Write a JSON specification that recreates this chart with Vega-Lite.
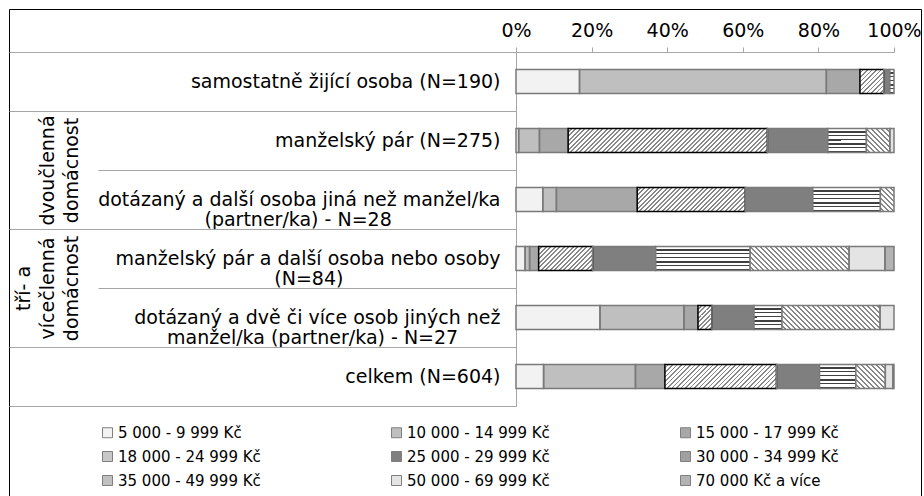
{
  "$schema": "https://vega.github.io/schema/vega-lite/v6.json",
  "width": 912,
  "height": 487,
  "autosize": {"type": "none"},
  "padding": {"left": 9, "top": 9, "right": 3, "bottom": 0},
  "background": "#ffffff",
  "config": {
    "font": "DejaVu Sans",
    "view": {"stroke": "#000000", "strokeWidth": 1},
    "axis": {"labelColor": "#000000", "labelFont": "DejaVu Sans"},
    "legend": {"labelFont": "DejaVu Sans", "labelColor": "#000000"}
  },
  "params": [
    {"name": "gradH", "value": {"gradient": "linear", "x1": 0, "y1": 0, "x2": 0.000001, "y2": 1, "stops": [
      {"offset":0,"color":"#fff"},{"offset":0.1083,"color":"#fff"},{"offset":0.1083,"color":"#404040"},{"offset":0.1667,"color":"#404040"},
      {"offset":0.1667,"color":"#fff"},{"offset":0.275,"color":"#fff"},{"offset":0.275,"color":"#404040"},{"offset":0.3333,"color":"#404040"},
      {"offset":0.3333,"color":"#fff"},{"offset":0.4417,"color":"#fff"},{"offset":0.4417,"color":"#404040"},{"offset":0.5,"color":"#404040"},
      {"offset":0.5,"color":"#fff"},{"offset":0.6083,"color":"#fff"},{"offset":0.6083,"color":"#404040"},{"offset":0.6667,"color":"#404040"},
      {"offset":0.6667,"color":"#fff"},{"offset":0.775,"color":"#fff"},{"offset":0.775,"color":"#404040"},{"offset":0.8333,"color":"#404040"},
      {"offset":0.8333,"color":"#fff"},{"offset":0.9417,"color":"#fff"},{"offset":0.9417,"color":"#404040"},{"offset":1,"color":"#404040"}]}},
    {"name": "stopsA", "value": [
      {"offset":0,"color":"#fff"},{"offset":0.012,"color":"#fff"},{"offset":0.012,"color":"#888"},{"offset":0.02,"color":"#888"},
      {"offset":0.02,"color":"#fff"},{"offset":0.032,"color":"#fff"},{"offset":0.032,"color":"#888"},{"offset":0.04,"color":"#888"},
      {"offset":0.04,"color":"#fff"},{"offset":0.052,"color":"#fff"},{"offset":0.052,"color":"#888"},{"offset":0.06,"color":"#888"},
      {"offset":0.06,"color":"#fff"},{"offset":0.072,"color":"#fff"},{"offset":0.072,"color":"#888"},{"offset":0.08,"color":"#888"},
      {"offset":0.08,"color":"#fff"},{"offset":0.092,"color":"#fff"},{"offset":0.092,"color":"#888"},{"offset":0.1,"color":"#888"},
      {"offset":0.1,"color":"#fff"},{"offset":0.112,"color":"#fff"},{"offset":0.112,"color":"#888"},{"offset":0.12,"color":"#888"},
      {"offset":0.12,"color":"#fff"},{"offset":0.132,"color":"#fff"},{"offset":0.132,"color":"#888"},{"offset":0.14,"color":"#888"},
      {"offset":0.14,"color":"#fff"},{"offset":0.152,"color":"#fff"},{"offset":0.152,"color":"#888"},{"offset":0.16,"color":"#888"},
      {"offset":0.16,"color":"#fff"},{"offset":0.172,"color":"#fff"},{"offset":0.172,"color":"#888"},{"offset":0.18,"color":"#888"},
      {"offset":0.18,"color":"#fff"},{"offset":0.192,"color":"#fff"},{"offset":0.192,"color":"#888"},{"offset":0.2,"color":"#888"},
      {"offset":0.2,"color":"#fff"},{"offset":0.212,"color":"#fff"},{"offset":0.212,"color":"#888"},{"offset":0.22,"color":"#888"},
      {"offset":0.22,"color":"#fff"},{"offset":0.232,"color":"#fff"},{"offset":0.232,"color":"#888"},{"offset":0.24,"color":"#888"},
      {"offset":0.24,"color":"#fff"},{"offset":0.252,"color":"#fff"},{"offset":0.252,"color":"#888"},{"offset":0.26,"color":"#888"},
      {"offset":0.26,"color":"#fff"},{"offset":0.272,"color":"#fff"},{"offset":0.272,"color":"#888"},{"offset":0.28,"color":"#888"},
      {"offset":0.28,"color":"#fff"},{"offset":0.292,"color":"#fff"},{"offset":0.292,"color":"#888"},{"offset":0.3,"color":"#888"},
      {"offset":0.3,"color":"#fff"},{"offset":0.312,"color":"#fff"},{"offset":0.312,"color":"#888"},{"offset":0.32,"color":"#888"},
      {"offset":0.32,"color":"#fff"},{"offset":0.332,"color":"#fff"},{"offset":0.332,"color":"#888"},{"offset":0.34,"color":"#888"},
      {"offset":0.34,"color":"#fff"},{"offset":0.352,"color":"#fff"},{"offset":0.352,"color":"#888"},{"offset":0.36,"color":"#888"},
      {"offset":0.36,"color":"#fff"},{"offset":0.372,"color":"#fff"},{"offset":0.372,"color":"#888"},{"offset":0.38,"color":"#888"},
      {"offset":0.38,"color":"#fff"},{"offset":0.392,"color":"#fff"},{"offset":0.392,"color":"#888"},{"offset":0.4,"color":"#888"},
      {"offset":0.4,"color":"#fff"},{"offset":0.412,"color":"#fff"},{"offset":0.412,"color":"#888"},{"offset":0.42,"color":"#888"},
      {"offset":0.42,"color":"#fff"},{"offset":0.432,"color":"#fff"},{"offset":0.432,"color":"#888"},{"offset":0.44,"color":"#888"},
      {"offset":0.44,"color":"#fff"},{"offset":0.452,"color":"#fff"},{"offset":0.452,"color":"#888"},{"offset":0.46,"color":"#888"},
      {"offset":0.46,"color":"#fff"},{"offset":0.472,"color":"#fff"},{"offset":0.472,"color":"#888"},{"offset":0.48,"color":"#888"},
      {"offset":0.48,"color":"#fff"},{"offset":0.492,"color":"#fff"},{"offset":0.492,"color":"#888"},{"offset":0.5,"color":"#888"},
      {"offset":0.5,"color":"#fff"},{"offset":0.512,"color":"#fff"},{"offset":0.512,"color":"#888"},{"offset":0.52,"color":"#888"},
      {"offset":0.52,"color":"#fff"},{"offset":0.532,"color":"#fff"},{"offset":0.532,"color":"#888"},{"offset":0.54,"color":"#888"},
      {"offset":0.54,"color":"#fff"},{"offset":0.552,"color":"#fff"},{"offset":0.552,"color":"#888"},{"offset":0.56,"color":"#888"},
      {"offset":0.56,"color":"#fff"},{"offset":0.572,"color":"#fff"},{"offset":0.572,"color":"#888"},{"offset":0.58,"color":"#888"},
      {"offset":0.58,"color":"#fff"},{"offset":0.592,"color":"#fff"},{"offset":0.592,"color":"#888"},{"offset":0.6,"color":"#888"},
      {"offset":0.6,"color":"#fff"},{"offset":0.612,"color":"#fff"},{"offset":0.612,"color":"#888"},{"offset":0.62,"color":"#888"},
      {"offset":0.62,"color":"#fff"},{"offset":0.632,"color":"#fff"},{"offset":0.632,"color":"#888"},{"offset":0.64,"color":"#888"},
      {"offset":0.64,"color":"#fff"},{"offset":0.652,"color":"#fff"},{"offset":0.652,"color":"#888"},{"offset":0.66,"color":"#888"},
      {"offset":0.66,"color":"#fff"},{"offset":0.672,"color":"#fff"},{"offset":0.672,"color":"#888"},{"offset":0.68,"color":"#888"},
      {"offset":0.68,"color":"#fff"},{"offset":0.692,"color":"#fff"},{"offset":0.692,"color":"#888"},{"offset":0.7,"color":"#888"},
      {"offset":0.7,"color":"#fff"},{"offset":0.712,"color":"#fff"},{"offset":0.712,"color":"#888"},{"offset":0.72,"color":"#888"},
      {"offset":0.72,"color":"#fff"},{"offset":0.732,"color":"#fff"},{"offset":0.732,"color":"#888"},{"offset":0.74,"color":"#888"},
      {"offset":0.74,"color":"#fff"},{"offset":0.752,"color":"#fff"},{"offset":0.752,"color":"#888"},{"offset":0.76,"color":"#888"},
      {"offset":0.76,"color":"#fff"},{"offset":0.772,"color":"#fff"},{"offset":0.772,"color":"#888"},{"offset":0.78,"color":"#888"},
      {"offset":0.78,"color":"#fff"},{"offset":0.792,"color":"#fff"},{"offset":0.792,"color":"#888"},{"offset":0.8,"color":"#888"},
      {"offset":0.8,"color":"#fff"},{"offset":0.812,"color":"#fff"},{"offset":0.812,"color":"#888"},{"offset":0.82,"color":"#888"},
      {"offset":0.82,"color":"#fff"},{"offset":0.832,"color":"#fff"},{"offset":0.832,"color":"#888"},{"offset":0.84,"color":"#888"},
      {"offset":0.84,"color":"#fff"},{"offset":0.852,"color":"#fff"},{"offset":0.852,"color":"#888"},{"offset":0.86,"color":"#888"},
      {"offset":0.86,"color":"#fff"},{"offset":0.872,"color":"#fff"},{"offset":0.872,"color":"#888"},{"offset":0.88,"color":"#888"},
      {"offset":0.88,"color":"#fff"},{"offset":0.892,"color":"#fff"},{"offset":0.892,"color":"#888"},{"offset":0.9,"color":"#888"},
      {"offset":0.9,"color":"#fff"},{"offset":0.912,"color":"#fff"},{"offset":0.912,"color":"#888"},{"offset":0.92,"color":"#888"},
      {"offset":0.92,"color":"#fff"},{"offset":0.932,"color":"#fff"},{"offset":0.932,"color":"#888"},{"offset":0.94,"color":"#888"},
      {"offset":0.94,"color":"#fff"},{"offset":0.952,"color":"#fff"},{"offset":0.952,"color":"#888"},{"offset":0.96,"color":"#888"},
      {"offset":0.96,"color":"#fff"},{"offset":0.972,"color":"#fff"},{"offset":0.972,"color":"#888"},{"offset":0.98,"color":"#888"},
      {"offset":0.98,"color":"#fff"},{"offset":0.992,"color":"#fff"},{"offset":0.992,"color":"#888"},{"offset":1,"color":"#888"}
    ]},
    {"name": "stopsB", "value": [
      {"offset":0,"color":"#fff"},{"offset":0.022,"color":"#fff"},{"offset":0.022,"color":"#888"},{"offset":0.04,"color":"#888"},
      {"offset":0.04,"color":"#fff"},{"offset":0.062,"color":"#fff"},{"offset":0.062,"color":"#888"},{"offset":0.08,"color":"#888"},
      {"offset":0.08,"color":"#fff"},{"offset":0.102,"color":"#fff"},{"offset":0.102,"color":"#888"},{"offset":0.12,"color":"#888"},
      {"offset":0.12,"color":"#fff"},{"offset":0.142,"color":"#fff"},{"offset":0.142,"color":"#888"},{"offset":0.16,"color":"#888"},
      {"offset":0.16,"color":"#fff"},{"offset":0.182,"color":"#fff"},{"offset":0.182,"color":"#888"},{"offset":0.2,"color":"#888"},
      {"offset":0.2,"color":"#fff"},{"offset":0.222,"color":"#fff"},{"offset":0.222,"color":"#888"},{"offset":0.24,"color":"#888"},
      {"offset":0.24,"color":"#fff"},{"offset":0.262,"color":"#fff"},{"offset":0.262,"color":"#888"},{"offset":0.28,"color":"#888"},
      {"offset":0.28,"color":"#fff"},{"offset":0.302,"color":"#fff"},{"offset":0.302,"color":"#888"},{"offset":0.32,"color":"#888"},
      {"offset":0.32,"color":"#fff"},{"offset":0.342,"color":"#fff"},{"offset":0.342,"color":"#888"},{"offset":0.36,"color":"#888"},
      {"offset":0.36,"color":"#fff"},{"offset":0.382,"color":"#fff"},{"offset":0.382,"color":"#888"},{"offset":0.4,"color":"#888"},
      {"offset":0.4,"color":"#fff"},{"offset":0.422,"color":"#fff"},{"offset":0.422,"color":"#888"},{"offset":0.44,"color":"#888"},
      {"offset":0.44,"color":"#fff"},{"offset":0.462,"color":"#fff"},{"offset":0.462,"color":"#888"},{"offset":0.48,"color":"#888"},
      {"offset":0.48,"color":"#fff"},{"offset":0.502,"color":"#fff"},{"offset":0.502,"color":"#888"},{"offset":0.52,"color":"#888"},
      {"offset":0.52,"color":"#fff"},{"offset":0.542,"color":"#fff"},{"offset":0.542,"color":"#888"},{"offset":0.56,"color":"#888"},
      {"offset":0.56,"color":"#fff"},{"offset":0.582,"color":"#fff"},{"offset":0.582,"color":"#888"},{"offset":0.6,"color":"#888"},
      {"offset":0.6,"color":"#fff"},{"offset":0.622,"color":"#fff"},{"offset":0.622,"color":"#888"},{"offset":0.64,"color":"#888"},
      {"offset":0.64,"color":"#fff"},{"offset":0.662,"color":"#fff"},{"offset":0.662,"color":"#888"},{"offset":0.68,"color":"#888"},
      {"offset":0.68,"color":"#fff"},{"offset":0.702,"color":"#fff"},{"offset":0.702,"color":"#888"},{"offset":0.72,"color":"#888"},
      {"offset":0.72,"color":"#fff"},{"offset":0.742,"color":"#fff"},{"offset":0.742,"color":"#888"},{"offset":0.76,"color":"#888"},
      {"offset":0.76,"color":"#fff"},{"offset":0.782,"color":"#fff"},{"offset":0.782,"color":"#888"},{"offset":0.8,"color":"#888"},
      {"offset":0.8,"color":"#fff"},{"offset":0.822,"color":"#fff"},{"offset":0.822,"color":"#888"},{"offset":0.84,"color":"#888"},
      {"offset":0.84,"color":"#fff"},{"offset":0.862,"color":"#fff"},{"offset":0.862,"color":"#888"},{"offset":0.88,"color":"#888"},
      {"offset":0.88,"color":"#fff"},{"offset":0.902,"color":"#fff"},{"offset":0.902,"color":"#888"},{"offset":0.92,"color":"#888"},
      {"offset":0.92,"color":"#fff"},{"offset":0.942,"color":"#fff"},{"offset":0.942,"color":"#888"},{"offset":0.96,"color":"#888"},
      {"offset":0.96,"color":"#fff"},{"offset":0.982,"color":"#fff"},{"offset":0.982,"color":"#888"},{"offset":1,"color":"#888"}
    ]}
  ],
  "data": {"values": [
    {"row": "samostatně žijící osoba (N=190)", "cat": "5 000 - 9 999 Kč", "ord": 1, "pct": 16.8},
    {"row": "samostatně žijící osoba (N=190)", "cat": "10 000 - 14 999 Kč", "ord": 2, "pct": 65.3},
    {"row": "samostatně žijící osoba (N=190)", "cat": "15 000 - 17 999 Kč", "ord": 3, "pct": 8.9},
    {"row": "samostatně žijící osoba (N=190)", "cat": "18 000 - 24 999 Kč", "ord": 4, "pct": 6.3},
    {"row": "samostatně žijící osoba (N=190)", "cat": "25 000 - 29 999 Kč", "ord": 5, "pct": 1.6},
    {"row": "samostatně žijící osoba (N=190)", "cat": "30 000 - 34 999 Kč", "ord": 6, "pct": 1.1},

    {"row": "manželský pár (N=275)", "cat": "5 000 - 9 999 Kč", "ord": 1, "pct": 0.7},
    {"row": "manželský pár (N=275)", "cat": "10 000 - 14 999 Kč", "ord": 2, "pct": 5.5},
    {"row": "manželský pár (N=275)", "cat": "15 000 - 17 999 Kč", "ord": 3, "pct": 7.6},
    {"row": "manželský pár (N=275)", "cat": "18 000 - 24 999 Kč", "ord": 4, "pct": 52.7},
    {"row": "manželský pár (N=275)", "cat": "25 000 - 29 999 Kč", "ord": 5, "pct": 16.0},
    {"row": "manželský pár (N=275)", "cat": "30 000 - 34 999 Kč", "ord": 6, "pct": 10.2},
    {"row": "manželský pár (N=275)", "cat": "35 000 - 49 999 Kč", "ord": 7, "pct": 6.2},
    {"row": "manželský pár (N=275)", "cat": "50 000 - 69 999 Kč", "ord": 8, "pct": 1.1},

    {"row": "dotázaný a další osoba jiná než manžel/ka\n(partner/ka) - N=28", "cat": "5 000 - 9 999 Kč", "ord": 1, "pct": 7.1},
    {"row": "dotázaný a další osoba jiná než manžel/ka\n(partner/ka) - N=28", "cat": "10 000 - 14 999 Kč", "ord": 2, "pct": 3.6},
    {"row": "dotázaný a další osoba jiná než manžel/ka\n(partner/ka) - N=28", "cat": "15 000 - 17 999 Kč", "ord": 3, "pct": 21.4},
    {"row": "dotázaný a další osoba jiná než manžel/ka\n(partner/ka) - N=28", "cat": "18 000 - 24 999 Kč", "ord": 4, "pct": 28.6},
    {"row": "dotázaný a další osoba jiná než manžel/ka\n(partner/ka) - N=28", "cat": "25 000 - 29 999 Kč", "ord": 5, "pct": 17.9},
    {"row": "dotázaný a další osoba jiná než manžel/ka\n(partner/ka) - N=28", "cat": "30 000 - 34 999 Kč", "ord": 6, "pct": 17.9},
    {"row": "dotázaný a další osoba jiná než manžel/ka\n(partner/ka) - N=28", "cat": "35 000 - 49 999 Kč", "ord": 7, "pct": 3.6},

    {"row": "manželský pár a další osoba nebo osoby\n(N=84)", "cat": "5 000 - 9 999 Kč", "ord": 1, "pct": 2.4},
    {"row": "manželský pár a další osoba nebo osoby\n(N=84)", "cat": "10 000 - 14 999 Kč", "ord": 2, "pct": 1.2},
    {"row": "manželský pár a další osoba nebo osoby\n(N=84)", "cat": "15 000 - 17 999 Kč", "ord": 3, "pct": 2.4},
    {"row": "manželský pár a další osoba nebo osoby\n(N=84)", "cat": "18 000 - 24 999 Kč", "ord": 4, "pct": 14.3},
    {"row": "manželský pár a další osoba nebo osoby\n(N=84)", "cat": "25 000 - 29 999 Kč", "ord": 5, "pct": 16.7},
    {"row": "manželský pár a další osoba nebo osoby\n(N=84)", "cat": "30 000 - 34 999 Kč", "ord": 6, "pct": 25.0},
    {"row": "manželský pár a další osoba nebo osoby\n(N=84)", "cat": "35 000 - 49 999 Kč", "ord": 7, "pct": 26.2},
    {"row": "manželský pár a další osoba nebo osoby\n(N=84)", "cat": "50 000 - 69 999 Kč", "ord": 8, "pct": 9.5},
    {"row": "manželský pár a další osoba nebo osoby\n(N=84)", "cat": "70 000 Kč a více", "ord": 9, "pct": 2.4},

    {"row": "dotázaný a dvě či více osob jiných než\nmanžel/ka (partner/ka) - N=27", "cat": "5 000 - 9 999 Kč", "ord": 1, "pct": 22.2},
    {"row": "dotázaný a dvě či více osob jiných než\nmanžel/ka (partner/ka) - N=27", "cat": "10 000 - 14 999 Kč", "ord": 2, "pct": 22.2},
    {"row": "dotázaný a dvě či více osob jiných než\nmanžel/ka (partner/ka) - N=27", "cat": "15 000 - 17 999 Kč", "ord": 3, "pct": 3.7},
    {"row": "dotázaný a dvě či více osob jiných než\nmanžel/ka (partner/ka) - N=27", "cat": "18 000 - 24 999 Kč", "ord": 4, "pct": 3.7},
    {"row": "dotázaný a dvě či více osob jiných než\nmanžel/ka (partner/ka) - N=27", "cat": "25 000 - 29 999 Kč", "ord": 5, "pct": 11.1},
    {"row": "dotázaný a dvě či více osob jiných než\nmanžel/ka (partner/ka) - N=27", "cat": "30 000 - 34 999 Kč", "ord": 6, "pct": 7.4},
    {"row": "dotázaný a dvě či více osob jiných než\nmanžel/ka (partner/ka) - N=27", "cat": "35 000 - 49 999 Kč", "ord": 7, "pct": 25.9},
    {"row": "dotázaný a dvě či více osob jiných než\nmanžel/ka (partner/ka) - N=27", "cat": "50 000 - 69 999 Kč", "ord": 8, "pct": 3.7},

    {"row": "celkem (N=604)", "cat": "5 000 - 9 999 Kč", "ord": 1, "pct": 7.3},
    {"row": "celkem (N=604)", "cat": "10 000 - 14 999 Kč", "ord": 2, "pct": 24.3},
    {"row": "celkem (N=604)", "cat": "15 000 - 17 999 Kč", "ord": 3, "pct": 7.8},
    {"row": "celkem (N=604)", "cat": "18 000 - 24 999 Kč", "ord": 4, "pct": 29.5},
    {"row": "celkem (N=604)", "cat": "25 000 - 29 999 Kč", "ord": 5, "pct": 11.4},
    {"row": "celkem (N=604)", "cat": "30 000 - 34 999 Kč", "ord": 6, "pct": 9.6},
    {"row": "celkem (N=604)", "cat": "35 000 - 49 999 Kč", "ord": 7, "pct": 7.8},
    {"row": "celkem (N=604)", "cat": "50 000 - 69 999 Kč", "ord": 8, "pct": 2.0},
    {"row": "celkem (N=604)", "cat": "70 000 Kč a více", "ord": 9, "pct": 0.3}
  ]},
  "resolve": {"scale": {"y": "independent"}, "axis": {"y": "independent"}},
  "layer": [
    {
      "mark": {"type": "bar", "size": 24, "strokeWidth": 0},
      "encoding": {
        "y": {
          "field": "row", "type": "nominal",
          "scale": {"domain": ["samostatně žijící osoba (N=190)", "manželský pár (N=275)", "dotázaný a další osoba jiná než manžel/ka\n(partner/ka) - N=28", "manželský pár a další osoba nebo osoby\n(N=84)", "dotázaný a dvě či více osob jiných než\nmanžel/ka (partner/ka) - N=27", "celkem (N=604)"], "range": [43, 397], "paddingInner": 0, "paddingOuter": 0},
          "axis": {
            "orient": "left", "offset": -507, "title": null, "grid": false,
            "domain": true, "domainColor": "#a6a6a6", "domainWidth": 1,
            "ticks": true, "tickBand": "extent", "tickSize": 418, "tickColor": "#a6a6a6", "tickWidth": 1,
            "labelPadding": -402, "labelAlign": "right", "labelBaseline": "middle",
            "labelFontSize": 19, "labelLineHeight": 20, "labelLimit": 0, "labelColor": "#000000",
            "labelExpr": "length(split(datum.label, '\\n')) > 1 ? [split(datum.label, '\\n')[0], pad(split(datum.label, '\\n')[1], length(split(datum.label, '\\n')[1]) + round((length(split(datum.label, '\\n')[0]) - length(split(datum.label, '\\n')[1])) * 0.82), '\u00a0') + '\u2060'] : datum.label"
          }
        },
        "x": {
          "field": "pct", "type": "quantitative", "stack": "normalize",
          "scale": {"domain": [0, 1], "range": [507, 885], "nice": false, "zero": false},
          "axis": {
            "orient": "top", "offset": -43, "title": null, "values": [0, 0.2, 0.4, 0.6, 0.8, 1], "format": ".0%",
            "grid": false, "domain": true, "domainColor": "#a6a6a6", "ticks": true, "tickSize": 5, "tickColor": "#a6a6a6",
            "labelFontSize": 19, "labelPadding": 7, "labelFlush": false, "labelOverlap": false, "labelColor": "#000000"
          }
        },
        "fill": {
          "field": "cat", "type": "nominal",
          "scale": {
            "domain": ["5 000 - 9 999 Kč", "10 000 - 14 999 Kč", "15 000 - 17 999 Kč", "18 000 - 24 999 Kč", "25 000 - 29 999 Kč", "30 000 - 34 999 Kč", "35 000 - 49 999 Kč", "50 000 - 69 999 Kč", "70 000 Kč a více"],
            "range": ["#f2f2f2", "#bfbfbf", "#a8a8a8", "#c8c8c8", "#7f7f7f", "#a0a0a0", "#c0c0c0", "#e4e4e4", "#b3b3b3"]
          },
          "legend": {
            "title": null, "orient": "none", "legendX": 91, "legendY": 416,
            "direction": "horizontal", "columns": 3, "columnPadding": 128, "rowPadding": 8, "gridAlign": "all",
            "symbolType": "square", "symbolSize": 100, "symbolStrokeColor": "#7f7f7f", "symbolStrokeWidth": 1,
            "labelFontSize": 15, "labelOffset": 3, "labelLimit": 0, "padding": 0, "labelColor": "#000000"
          }
        },
        "order": {"field": "ord", "type": "quantitative"}
      }
    },
    {
      "mark": {
        "type": "bar", "size": 24, "strokeWidth": 1.5,
        "fill": {"expr": "datum.cat === '18 000 - 24 999 Kč' ? {gradient: 'linear', x1: 0, y1: 0, x2: 225 * ((datum.pct_end - datum.pct_start) * 378) / (((datum.pct_end - datum.pct_start) * 378) * ((datum.pct_end - datum.pct_start) * 378) + 576), y2: 5400 / (((datum.pct_end - datum.pct_start) * 378) * ((datum.pct_end - datum.pct_start) * 378) + 576), stops: stopsA} : datum.cat === '35 000 - 49 999 Kč' ? {gradient: 'linear', x1: 0, y1: 1, x2: 125 * ((datum.pct_end - datum.pct_start) * 378) / (((datum.pct_end - datum.pct_start) * 378) * ((datum.pct_end - datum.pct_start) * 378) + 576), y2: 1 - 3000 / (((datum.pct_end - datum.pct_start) * 378) * ((datum.pct_end - datum.pct_start) * 378) + 576), stops: stopsB} : datum.cat === '30 000 - 34 999 Kč' ? gradH : 'transparent'"}
      },
      "encoding": {
        "y": {
          "field": "row", "type": "nominal",
          "scale": {"domain": ["samostatně žijící osoba (N=190)", "manželský pár (N=275)", "dotázaný a další osoba jiná než manžel/ka\n(partner/ka) - N=28", "manželský pár a další osoba nebo osoby\n(N=84)", "dotázaný a dvě či více osob jiných než\nmanžel/ka (partner/ka) - N=27", "celkem (N=604)"], "range": [43, 397], "paddingInner": 0, "paddingOuter": 0},
          "axis": null
        },
        "x": {
          "field": "pct", "type": "quantitative", "stack": "normalize",
          "scale": {"domain": [0, 1], "range": [507, 885], "nice": false, "zero": false}
        },
        "detail": {"field": "cat"},
        "order": {"field": "ord", "type": "quantitative"},
        "stroke": {"condition": {"test": "datum.cat === '18 000 - 24 999 Kč'", "value": "#000000"}, "value": "#7a7a7a"}
      }
    },
    {
      "data": {"values": [
        {"grp": "dvoučlenná domácnost", "gpos": 1},
        {"grp": "tří- a vícečlenná domácnost", "gpos": 3}
      ]},
      "mark": {"type": "point", "opacity": 0},
      "encoding": {
        "y": {
          "field": "gpos", "type": "quantitative",
          "scale": {"domain": [0, 6], "range": [43, 397], "nice": false, "zero": false},
          "axis": {
            "orient": "left", "offset": -507, "title": null, "grid": false, "domain": false,
            "values": [0, 1, 3, 5, 6],
            "ticks": true, "tickSize": 507, "tickColor": "#a6a6a6", "tickWidth": 1,
            "labelPadding": -14, "labelOffset": 59, "labelAngle": -90, "labelAlign": "center", "labelBaseline": "middle",
            "labelFontSize": 19, "labelLineHeight": 24, "labelLimit": 0, "labelColor": "#000000",
            "labelFlush": false, "labelOverlap": false,
            "labelExpr": "datum.value == 1 ? ['', 'dvoučlenná', 'domácnost'] : datum.value == 3 ? ['tří- a', 'vícečlenná', 'domácnost'] : ''"
          }
        }
      }
    }
  ]
}
